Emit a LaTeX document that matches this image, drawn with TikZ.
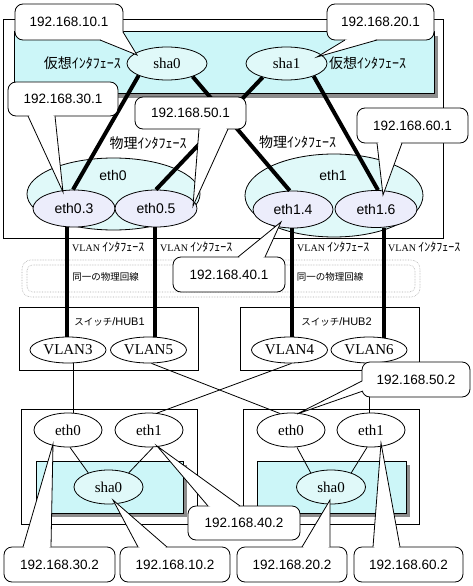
\documentclass[tikz,border=0pt]{standalone}
\usepackage{fontspec}
\setmainfont{Liberation Serif}
\newfontfamily\ipf{Liberation Sans}
\newfontfamily\jpf{Noto Sans CJK JP}
\usetikzlibrary{calc,shapes.geometric}
\definecolor{panelc}{RGB}{204,246,248}
\definecolor{bigc}{RGB}{224,249,249}
\definecolor{smallc}{RGB}{236,237,251}
\definecolor{shadowc}{RGB}{140,140,140}
\definecolor{bandc}{RGB}{170,170,170}
\newcommand\callout[9]{%
  \node[ipbox, minimum width=#3, minimum height=#4] (#1) at #2 {#5};
  \coordinate (#1-a) at #6; \coordinate (#1-b) at #7;
  \coordinate (#1-t) at #8; \coordinate (#1-i) at #9;
  \fill[white] (#1-a) -- (#1-t) -- (#1-b) -- (#1-i) -- cycle;
  \draw[tline] (#1-a) -- (#1-t) -- (#1-b);}
\newcommand\vlanif{{\fontsize{10}{12}\selectfont VLAN }{\jpf\fontsize{12}{12}\selectfont ｲﾝﾀﾌｪｰｽ}}
\begin{document}
\begin{tikzpicture}[x=1pt,y=-1pt,
  tline/.style={line width=0.8pt},
  thickline/.style={line width=4pt},
  ipbox/.style={draw, line width=0.8pt, fill=white, rounded corners=8pt, inner sep=0pt,
    font=\ipf\fontsize{13.5}{16}\selectfont},
  iface/.style={ellipse, draw, line width=0.8pt, inner sep=0pt},
  serlab/.style={font=\fontsize{15}{17}\selectfont},
  sanlab/.style={font=\ipf\fontsize{14}{16}\selectfont},
  jplab/.style={inner sep=0pt, font=\jpf\fontsize{14}{16}\selectfont},
  boxr/.style={draw, line width=0.8pt, inner sep=0pt},
  panel/.style={draw, line width=0.8pt, fill=panelc, inner sep=0pt}
]
\useasboundingbox (0,0) rectangle (473,586);
% physical line band
\draw[bandc, line width=0.6pt, densely dotted, rounded corners=9pt] (22,260) rectangle (420,297);
\draw[bandc, line width=0.6pt, densely dotted, rounded corners=6pt] (27,265) rectangle (415,292);
\node[inner sep=0pt, font=\jpf\fontsize{9.5}{11}\selectfont] (pl1) at (105.5,277) {同一の物理回線};
\node[inner sep=0pt, font=\jpf\fontsize{9.5}{11}\selectfont] (pl2) at (330,277) {同一の物理回線};

% top host
\node[boxr, minimum width=440, minimum height=219] (host1) at (223,128.5) {};
\fill[shadowc] (18,36) rectangle (438,98);
\node[panel, minimum width=420, minimum height=62] (vpanel) at (224,62) {};
\node[jplab, anchor=east] (vil1) at (121,63) {仮想ｲﾝﾀﾌｪｰｽ};
\node[jplab, anchor=west] (vil2) at (329,63) {仮想ｲﾝﾀﾌｪｰｽ};
\node[jplab] (pil1) at (148,143) {物理ｲﾝﾀﾌｪｰｽ};
\node[jplab] (pil2) at (297.5,142) {物理ｲﾝﾀﾌｪｰｽ};

% big physical ellipses
\node[iface, fill=bigc, minimum width=173, minimum height=72] (eth0) at (113.5,194) {};
\node[iface, fill=bigc, minimum width=178, minimum height=83] (eth1) at (334,195.5) {};
\node[sanlab] at (113,175) {eth0};
\node[sanlab] at (333,175) {eth1};

% virtual interfaces
\node[iface, fill=bigc, minimum width=80, minimum height=33, serlab] (sha0) at (167,63.5) {sha0};
\node[iface, fill=bigc, minimum width=81, minimum height=33, serlab] (sha1) at (286.5,63.5) {sha1};

% VLAN interfaces
\node[iface, fill=smallc, minimum width=82, minimum height=37, sanlab] (eth03) at (74,208.5) {eth0.3};
\node[iface, fill=smallc, minimum width=82, minimum height=37, sanlab] (eth05) at (156,208.5) {eth0.5};
\node[iface, fill=smallc, minimum width=80, minimum height=37, sanlab] (eth14) at (293,209.5) {eth1.4};
\node[iface, fill=smallc, minimum width=82, minimum height=37, sanlab] (eth16) at (376,209) {eth1.6};

\node[inner sep=0pt, anchor=west] (vif1) at (72,247) {\vlanif};
\node[inner sep=0pt, anchor=west] (vif2) at (160,247) {\vlanif};
\node[inner sep=0pt, anchor=west] (vif3) at (297,247) {\vlanif};
\node[inner sep=0pt, anchor=west] (vif4) at (388,247) {\vlanif};

% switches
\node[boxr, minimum width=179, minimum height=63] (hub1) at (108.5,338.5) {};
\node[boxr, minimum width=179, minimum height=63] (hub2) at (329.5,338.5) {};
\node[inner sep=0pt] (hl1) at (109.5,322) {{\jpf\fontsize{9.5}{11}\selectfont スイッチ}{\ipf\fontsize{11}{12}\selectfont /HUB1}};
\node[inner sep=0pt] (hl2) at (336.5,322) {{\jpf\fontsize{9.5}{11}\selectfont スイッチ}{\ipf\fontsize{11}{12}\selectfont /HUB2}};
\node[iface, fill=white, minimum width=76, minimum height=26, serlab] (vl3) at (68,350) {VLAN3};
\node[iface, fill=white, minimum width=76, minimum height=26, serlab] (vl5) at (148.5,350) {VLAN5};
\node[iface, fill=white, minimum width=76, minimum height=26, serlab] (vl4) at (289.5,350) {VLAN4};
\node[iface, fill=white, minimum width=76, minimum height=26, serlab] (vl6) at (369,350) {VLAN6};

% lower hosts
\node[boxr, minimum width=176, minimum height=115] (host2) at (109,466.5) {};
\node[boxr, minimum width=176, minimum height=115] (host3) at (331,466.5) {};
\fill[shadowc] (40,465) rectangle (187,517);
\fill[shadowc] (261,465) rectangle (410,517);
\node[panel, minimum width=147, minimum height=52] (pan2) at (109.5,487) {};
\node[panel, minimum width=149, minimum height=52] (pan3) at (331.5,487) {};
\node[iface, fill=white, minimum width=68, minimum height=34, serlab] (eth0L) at (68,430) {eth0};
\node[iface, fill=white, minimum width=68, minimum height=34, serlab] (eth1L) at (149,430) {eth1};
\node[iface, fill=bigc, minimum width=69, minimum height=34, serlab] (sha0L) at (108.5,487) {sha0};
\node[iface, fill=white, minimum width=68, minimum height=34, serlab] (eth0R) at (291,430) {eth0};
\node[iface, fill=white, minimum width=68, minimum height=34, serlab] (eth1R) at (371,430) {eth1};
\node[iface, fill=bigc, minimum width=69, minimum height=34, serlab] (sha0R) at (331,487) {sha0};

% thin connectors
\draw[tline] ($(vl3.south)+(5,0)$) -- ($(eth0L.north)+(5,0.4)$);
\draw[tline] ($(vl5.south)+(3,0)$) -- ($(eth0R.north)+(-11,0.9)$);
\draw[tline] ($(vl4.south)+(2,0)$) -- ($(eth1L.north)+(8,0.5)$);
\draw[tline] (vl6.south) -- (vl6.south |- eth1R.north);
\draw[tline] ($(eth0L.south)+(2,0)$) -- (sha0L.145);
\draw[tline] ($(eth1L.south)+(4,0)$) -- (sha0L.35);
\draw[tline] ($(eth0R.south)+(6,0)$) -- (sha0R.145);
\draw[tline] ($(eth1R.south)+(-4,0)$) -- (sha0R.35);

% thick connectors
\draw[thickline] (sha0.203) -- ($(eth03.north)+(-1,0)$);
\draw[thickline] (sha0.333) -- (eth14.100);
\draw[thickline] (sha1.210) -- (eth05.north);
\draw[thickline] (sha1.335) -- ($(eth16.north)+(2,0)$);
\draw[thickline] ($(eth03.south)+(-7,0)$) -- ($(vl3.north)+(-1,0)$);
\draw[thickline] ($(eth05.south)+(-1,0)$) -- ($(vl5.north)+(6.5,0)$);
\draw[thickline] ($(eth14.south)+(-1,0)$) -- ($(vl4.north)+(2.5,0)$);
\draw[thickline] ($(eth16.south)+(8,0)$) -- ($(vl6.north)+(15,1)$);

% callouts
\callout{c101}{(69,22)}{108}{36}{192.168.10.1}{(100,40)}{(123,32)}{(137,55)}{(112,32)}
\callout{c201}{(380.5,22)}{107}{36}{192.168.20.1}{(345,40)}{(377,40)}{(317,57)}{(361,35)}
\callout{c301}{(63,99)}{110}{34}{192.168.30.1}{(28,116)}{(55,116)}{(63,192)}{(41,111)}
\callout{c501}{(190.5,113)}{111}{32}{192.168.50.1}{(199,129)}{(228,129)}{(193,206)}{(213,124)}
\callout{c601}{(412.5,125.5)}{111}{35}{192.168.60.1}{(377,143)}{(402,143)}{(383,195)}{(390,138)}
\callout{c401}{(229,274.5)}{112}{35}{192.168.40.1}{(238,257)}{(265,257)}{(281,222)}{(251,262)}
\callout{c502}{(416,379.5)}{108}{35}{192.168.50.2}{(362,381)}{(363,391)}{(297,414)}{(370,386)}
\callout{c402}{(244,523)}{112}{34}{192.168.40.2}{(208,506)}{(240,506)}{(157,446)}{(224,511)}
\callout{c302}{(59.5,564.5)}{111}{35}{192.168.30.2}{(23,547)}{(51,547)}{(53,444)}{(37,552)}
\callout{c102}{(175,564.5)}{110}{35}{192.168.10.2}{(138,547)}{(167,547)}{(113,500)}{(152,552)}
\callout{c202}{(292,564.5)}{110}{35}{192.168.20.2}{(302,547)}{(330,547)}{(330,500)}{(316,552)}
\callout{c602}{(408.5,564.5)}{109}{35}{192.168.60.2}{(373,547)}{(400,547)}{(381,443)}{(386,552)}
\end{tikzpicture}
\end{document}
